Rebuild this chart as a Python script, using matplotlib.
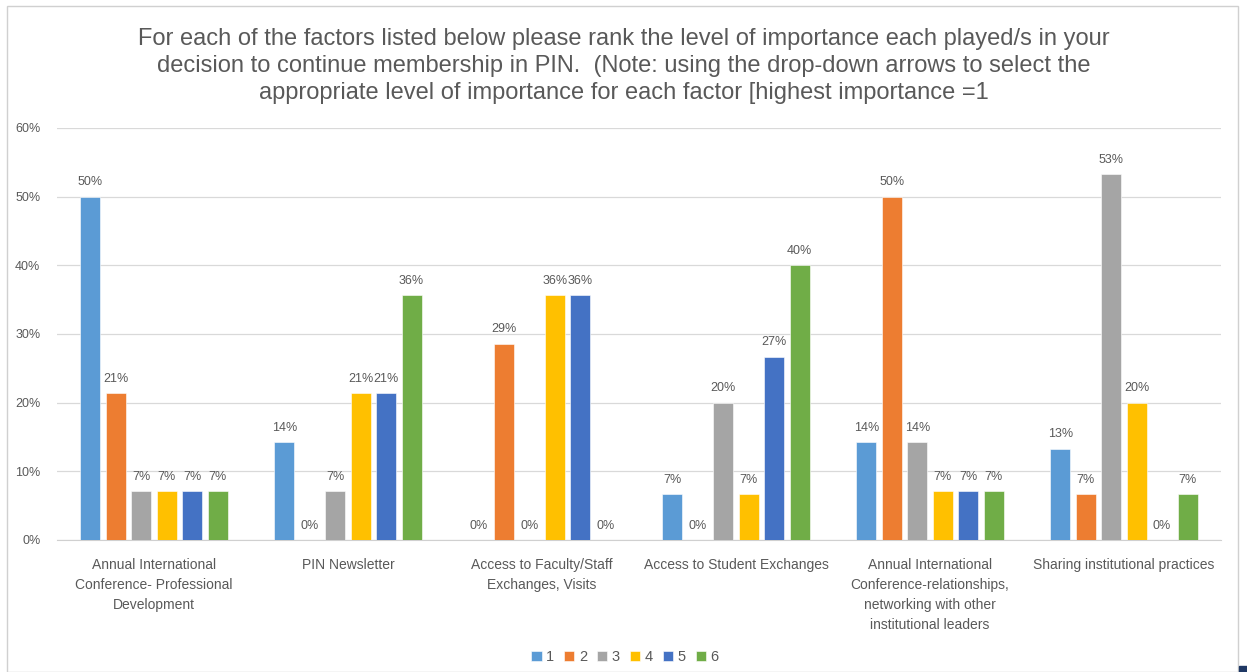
import matplotlib

matplotlib.use("Agg")
import matplotlib.pyplot as plt
import numpy as np
from matplotlib.patches import Rectangle

plt.rcParams["font.family"] = ["Liberation Sans", "DejaVu Sans"]

TITLE = (
    "For each of the factors listed below please rank the level of importance each played/s in your\n"
    "decision to continue membership in PIN.  (Note: using the drop-down arrows to select the\n"
    "appropriate level of importance for each factor [highest importance =1"
)
CATEGORIES = [
    "Annual International\nConference- Professional\nDevelopment",
    "PIN Newsletter",
    "Access to Faculty/Staff\nExchanges, Visits",
    "Access to Student Exchanges",
    "Annual International\nConference-relationships,\nnetworking with other\ninstitutional leaders",
    "Sharing institutional practices",
]
RANKS = ["1", "2", "3", "4", "5", "6"]
# share of respondents per rank, one list per rank, in category order
RANK_1 = [0.500, 0.143, 0.000, 0.067, 0.143, 0.133]
RANK_2 = [0.214, 0.000, 0.286, 0.000, 0.500, 0.067]
RANK_3 = [0.071, 0.071, 0.000, 0.200, 0.143, 0.533]
RANK_4 = [0.071, 0.214, 0.357, 0.067, 0.071, 0.200]
RANK_5 = [0.071, 0.214, 0.357, 0.267, 0.071, 0.000]
RANK_6 = [0.071, 0.357, 0.000, 0.400, 0.071, 0.067]
SERIES = [RANK_1, RANK_2, RANK_3, RANK_4, RANK_5, RANK_6]
COLORS = ["#5b9bd5", "#ed7d31", "#a5a5a5", "#ffc000", "#4472c4", "#70ad47"]
TEXT_GREY = "#595959"

fig = plt.figure(figsize=(12.47, 6.72), dpi=100)
fig.patches.append(Rectangle((7 / 1247, 0), 1231 / 1247, 666 / 672,
                             transform=fig.transFigure, fill=False,
                             edgecolor="#d0d0d0", linewidth=1))
fig.patches.append(Rectangle((1239 / 1247, 0), 8 / 1247, 6 / 672,
                             transform=fig.transFigure, color="#1f3864"))

ax = fig.add_axes([57 / 1247, 1 - 540 / 672, 1164 / 1247, 412 / 672])

x = np.arange(len(CATEGORIES))
slot = 0.131
width = 0.103
for i, (vals, color, name) in enumerate(zip(SERIES, COLORS, RANKS)):
    pos = x + (i - 2.5) * slot
    bars = ax.bar(pos, vals, width=width, color=color, label=name,
                  edgecolor="white", linewidth=0.4, zorder=3)
    for b, v in zip(bars, vals):
        ax.text(b.get_x() + b.get_width() / 2, v + 0.012, f"{v * 100:.0f}%",
                ha="center", va="bottom", fontsize=9, color=TEXT_GREY)

ax.set_xlim(-0.5, len(CATEGORIES) - 0.5)
ax.set_ylim(0, 0.6)
ax.set_yticks(np.arange(0, 0.61, 0.1))
ax.set_yticklabels([f"{t * 100:.0f}%" for t in np.arange(0, 0.61, 0.1)],
                   fontsize=9, color=TEXT_GREY)
ax.set_xticks(x)
ax.set_xticklabels(CATEGORIES, fontsize=10, color=TEXT_GREY, linespacing=1.55, va="top")
ax.tick_params(axis="both", length=0, pad=12)
ax.tick_params(axis="x", pad=13)
ax.grid(axis="y", color="#d9d9d9", linewidth=0.9, zorder=0)
for side in ["top", "right", "left"]:
    ax.spines[side].set_visible(False)
ax.spines["bottom"].set_color("#d0d0d0")

fig.text(0.5, 1 - 28 / 672, TITLE, ha="center", va="top", fontsize=17,
         color=TEXT_GREY, linespacing=1.3)

fig.legend(loc="center", bbox_to_anchor=(625 / 1247, 1 - 657 / 672), ncol=6,
           frameon=False, fontsize=10.5, handlelength=0.7, handleheight=0.7,
           handletextpad=0.3, columnspacing=0.7, labelcolor=TEXT_GREY)

fig.savefig("out.png", dpi=100)
